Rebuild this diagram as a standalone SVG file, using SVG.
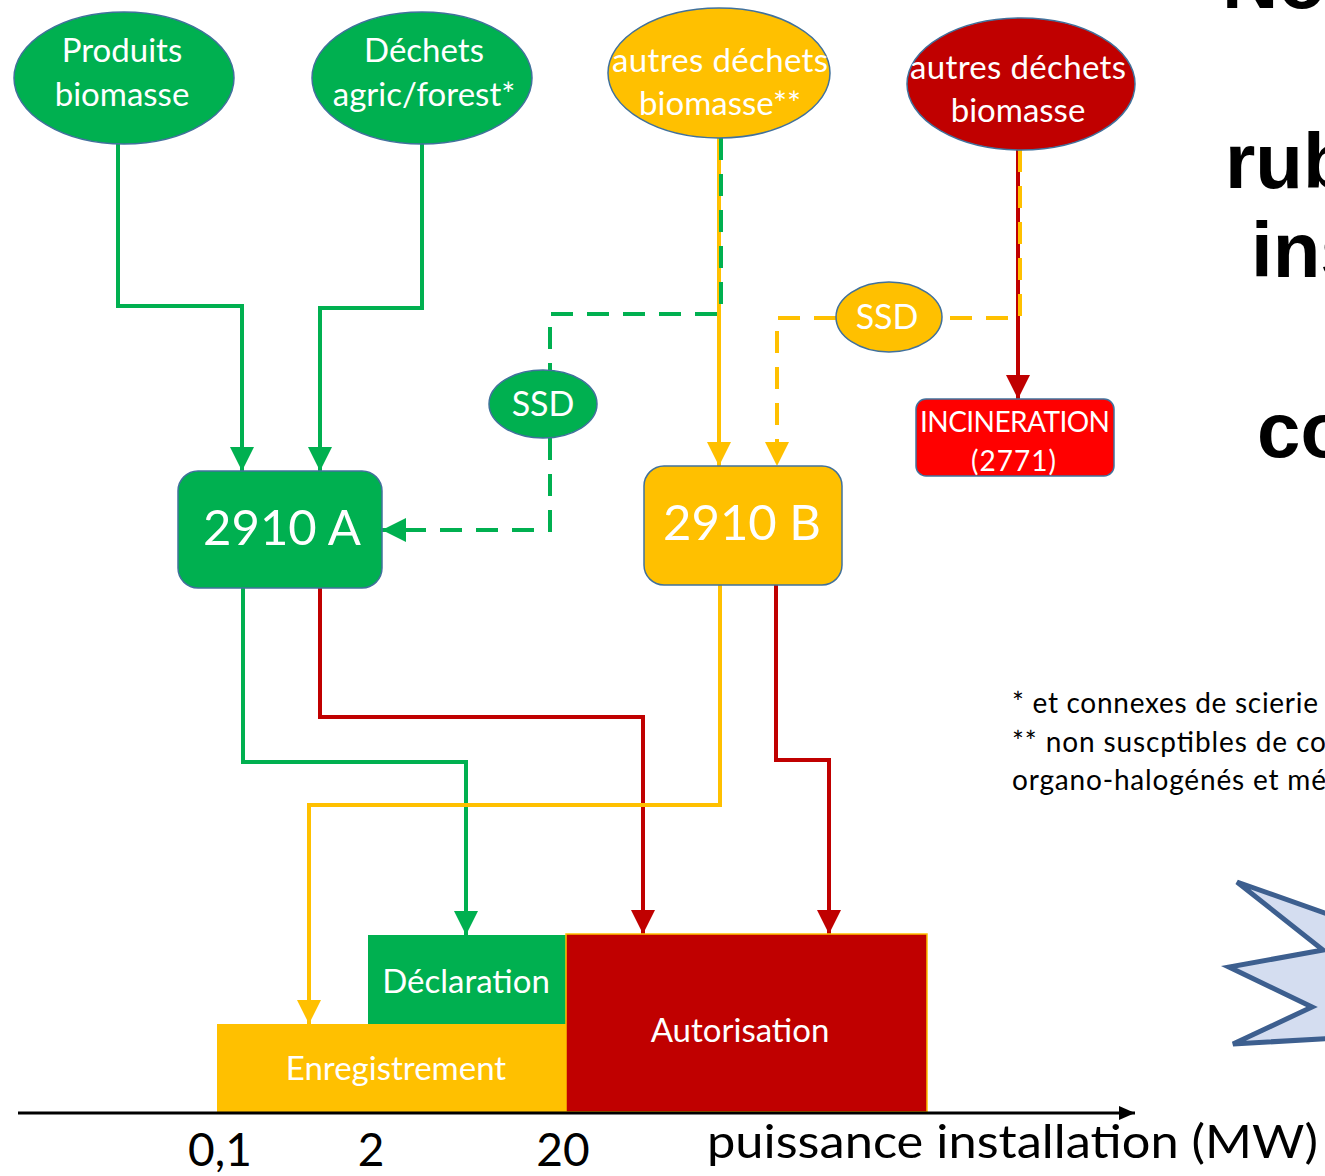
<svg xmlns="http://www.w3.org/2000/svg" width="1325" height="1176" viewBox="0 0 1325 1176">
<defs>
<marker id="ag" markerUnits="userSpaceOnUse" markerWidth="24" markerHeight="24" viewBox="0 0 24 24" refX="24" refY="12" orient="auto"><path d="M0,0 L24,12 L0,24 z" fill="#00b050"/></marker>
<marker id="ay" markerUnits="userSpaceOnUse" markerWidth="24" markerHeight="24" viewBox="0 0 24 24" refX="24" refY="12" orient="auto"><path d="M0,0 L24,12 L0,24 z" fill="#ffc000"/></marker>
<marker id="ar" markerUnits="userSpaceOnUse" markerWidth="24" markerHeight="24" viewBox="0 0 24 24" refX="24" refY="12" orient="auto"><path d="M0,0 L24,12 L0,24 z" fill="#c00000"/></marker>
<marker id="ak" markerUnits="userSpaceOnUse" markerWidth="16" markerHeight="14" viewBox="0 0 16 14" refX="16" refY="7" orient="auto"><path d="M0,0 L16,7 L0,14 z" fill="#000"/></marker>
</defs>
<style>
text{font-family:Lato,"Open Sans","Liberation Sans",sans-serif;}
.w{fill:#fff;text-anchor:middle;}
.nd{stroke:#41719c;stroke-width:1.5;}
.g{fill:#00b050;} .y{fill:#ffc000;} .r{fill:#c00000;}
.c{fill:none;stroke-width:4;}
.cg{stroke:#00b050;} .cy{stroke:#ffc000;} .cr{stroke:#c00000;}
.d{stroke-dasharray:22,14;}
.big{font-family:"Liberation Sans",Arial,sans-serif;font-weight:bold;font-size:78px;fill:#000;}
.fn{font-size:28px;fill:#000;}
.ax{font-size:46px;fill:#000;}
.t{font-size:33px;}
</style>
<rect width="1325" height="1176" fill="#fff"/>

<g id="connectors">
<path class="c cg" d="M118,144 V306 H242 V471" marker-end="url(#ag)"/>
<path class="c cg" d="M422,144 V308 H320 V471" marker-end="url(#ag)"/>
<path class="c cy" d="M719,138 V466" marker-end="url(#ay)"/>
<path class="c cg d" d="M721,138 V314 H550 V370"/>
<path class="c cg d" d="M550,438 V530 H382" marker-end="url(#ag)"/>
<path class="c cr" d="M1018,150 V399" marker-end="url(#ar)"/>
<path class="c cy d" d="M1020,150 V318 H942"/>
<path class="c cy d" d="M836,318 H777 V466" marker-end="url(#ay)"/>
<path class="c cg" d="M243,588 V762 H466 V935" marker-end="url(#ag)"/>
<path class="c cr" d="M320,588 V717 H643 V934" marker-end="url(#ar)"/>
<path class="c cy" d="M720,585 V805 H309 V1024" marker-end="url(#ay)"/>
<path class="c cr" d="M776,585 V760 H829 V934" marker-end="url(#ar)"/>
</g>

<g id="produits">
<ellipse class="nd g" cx="124" cy="78" rx="110" ry="66"/>
<text class="w t" x="122" y="62">Produits</text>
<text class="w t" x="122" y="106">biomasse</text>
</g>
<g id="dechets">
<ellipse class="nd g" cx="422" cy="78" rx="110" ry="66"/>
<text class="w t" x="424" y="62">Déchets</text>
<text class="w t" x="424" y="106">agric/forest*</text>
</g>
<g id="autres-jaune">
<ellipse class="nd y" cx="719" cy="73" rx="111" ry="65"/>
<text class="w t" x="720" y="72" textLength="216">autres déchets</text>
<text class="w t" x="720" y="115">biomasse**</text>
</g>
<g id="autres-rouge">
<ellipse class="nd r" cx="1021" cy="84" rx="114" ry="66"/>
<text class="w t" x="1018" y="79" textLength="216">autres déchets</text>
<text class="w t" x="1018" y="122">biomasse</text>
</g>
<g id="ssd-vert">
<ellipse class="nd g" cx="543" cy="404" rx="54" ry="34"/>
<text class="w" x="543" y="416" font-size="34">SSD</text>
</g>
<g id="ssd-jaune">
<ellipse class="nd y" cx="889" cy="317" rx="53" ry="35"/>
<text class="w" x="887" y="329" font-size="34">SSD</text>
</g>
<g id="n2910a">
<rect class="nd g" x="178" y="471" width="204" height="117" rx="20"/>
<text class="w" x="282" y="545" font-size="49">2910 A</text>
</g>
<g id="n2910b">
<rect class="nd y" x="644" y="466" width="198" height="119" rx="20"/>
<text class="w" x="742" y="540" font-size="49">2910 B</text>
</g>
<g id="incineration">
<rect class="nd" fill="#ff0000" x="916" y="399" width="198" height="77" rx="10"/>
<text class="w" x="1015" y="432" font-size="28" textLength="190" lengthAdjust="spacing">INCINERATION</text>
<text class="w" x="1014" y="471" font-size="28" letter-spacing="1">(2771)</text>
</g>
<g id="declaration">
<rect class="g" x="368" y="935" width="198" height="89"/>
<text class="w t" x="466" y="993">Déclaration</text>
</g>
<g id="enregistrement">
<rect class="y" x="217" y="1024" width="349" height="88"/>
<text class="w t" x="396" y="1080">Enregistrement</text>
</g>
<g id="autorisation">
<rect class="r" x="566" y="934" width="361" height="178" stroke="#ffc000" stroke-width="1.5"/>
<text class="w t" x="740" y="1042">Autorisation</text>
</g>

<g id="axis">
<path d="M18,1113 H1135" stroke="#000" stroke-width="3" fill="none" marker-end="url(#ak)"/>
<text class="ax" x="220" y="1166" text-anchor="middle">0,1</text>
<text class="ax" x="371" y="1166" text-anchor="middle">2</text>
<text class="ax" x="563" y="1166" text-anchor="middle">20</text>
<text class="ax" x="707" y="1158" font-size="47" textLength="611" lengthAdjust="spacingAndGlyphs">puissance installation (MW)</text>
</g>

<g id="notes">
<text class="fn" x="1012" y="713" textLength="306">* et connexes de scierie</text>
<text class="fn" x="1012" y="752" textLength="314">** non suscptibles de co</text>
<text class="fn" x="1012" y="790" textLength="314">organo-halogénés et mé</text>
</g>

<g id="title">
<text class="big" x="1222" y="8">No</text>
<text class="big" x="1225" y="188">rub</text>
<text class="big" x="1251" y="277">ins</text>
<text class="big" x="1257" y="457">co</text>
</g>

<g id="star">
<path d="M1390,936 L1237,882 L1323,950 L1229,967 L1312,1007 L1233,1044 L1390,1035 Z" fill="#d4ddf0" stroke="#3d5f8f" stroke-width="5" stroke-linejoin="miter"/>
</g>
</svg>
